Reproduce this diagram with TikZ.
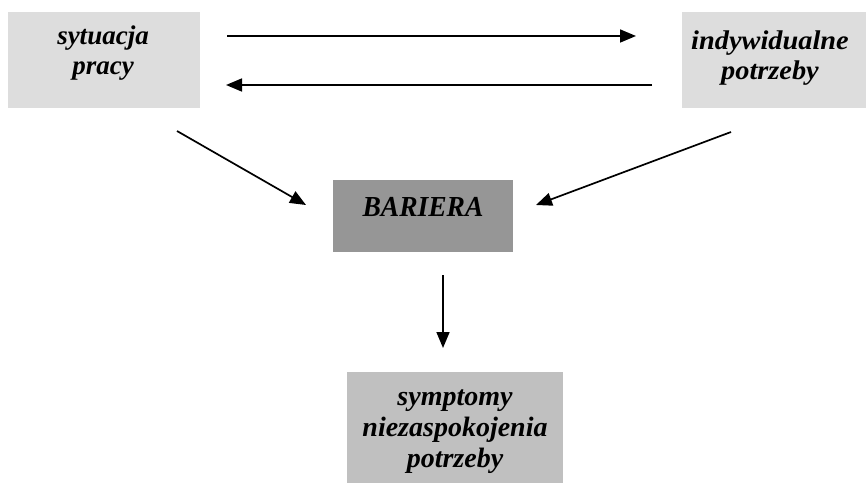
\documentclass[tikz,border=0pt]{standalone}
\usepackage{fontspec}
\setmainfont{Liberation Serif}
\usetikzlibrary{arrows.meta}
\definecolor{lightbox}{HTML}{DDDDDD}
\definecolor{darkbox}{HTML}{969696}
\definecolor{midbox}{HTML}{C0C0C0}
\newcommand{\lines}[2]{\scalebox{#1}[1]{\begin{tabular}{@{}c@{}}#2\end{tabular}}}
\tikzset{
  box/.style={inner sep=0pt, outer sep=0pt, anchor=north west},
  lbl/.style={inner sep=0pt},
  conn/.style={line width=1.7pt, -{Triangle[length=16pt,width=13pt]}}
}
\begin{document}
\begin{tikzpicture}[x=1pt,y=-1pt]
\useasboundingbox (0,0) rectangle (866,486);
% boxes
\node[box, fill=lightbox, minimum width=192pt, minimum height=96pt] (b1) at (8,12) {};
\node[box, fill=lightbox, minimum width=184pt, minimum height=96pt] (b2) at (682,12) {};
\node[box, fill=darkbox, minimum width=180pt, minimum height=72pt] (b3) at (333,180) {};
\node[box, fill=midbox, minimum width=216pt, minimum height=111pt] (b4) at (347,372) {};
% texts
\node[lbl, font=\bfseries\itshape\fontsize{27}{30}\selectfont] (t1) at (103,54) {\lines{1}{sytuacja\\pracy}};
\node[lbl, font=\bfseries\itshape\fontsize{27}{30}\selectfont] (t2) at (770,59) {\lines{1.05}{indywidualne\\potrzeby}};
\node[lbl, anchor=base, font=\bfseries\itshape\fontsize{29}{34}\selectfont] (t3) at (423,217) {\scalebox{0.95}[1]{BARIERA}};
\node[lbl, font=\bfseries\itshape\fontsize{28}{31}\selectfont] (t4) at (455,430) {\lines{1}{symptomy\\niezaspokojenia\\potrzeby}};
% connector end points
\coordinate (a1s) at (227,36);  \coordinate (a1e) at (636,36);
\coordinate (a2s) at (652,85);  \coordinate (a2e) at (226,85);
\coordinate (a3s) at (177,131); \coordinate (a3e) at (306,205);
\coordinate (a4s) at (731,132); \coordinate (a4e) at (536,205);
\coordinate (a5s) at (443,275); \coordinate (a5e) at (443,348);
\draw[conn] (a1s) -- (a1e);
\draw[conn] (a2s) -- (a2e);
\draw[conn] (a3s) -- (a3e);
\draw[conn] (a4s) -- (a4e);
\draw[conn] (a5s) -- (a5e);
\end{tikzpicture}
\end{document}
